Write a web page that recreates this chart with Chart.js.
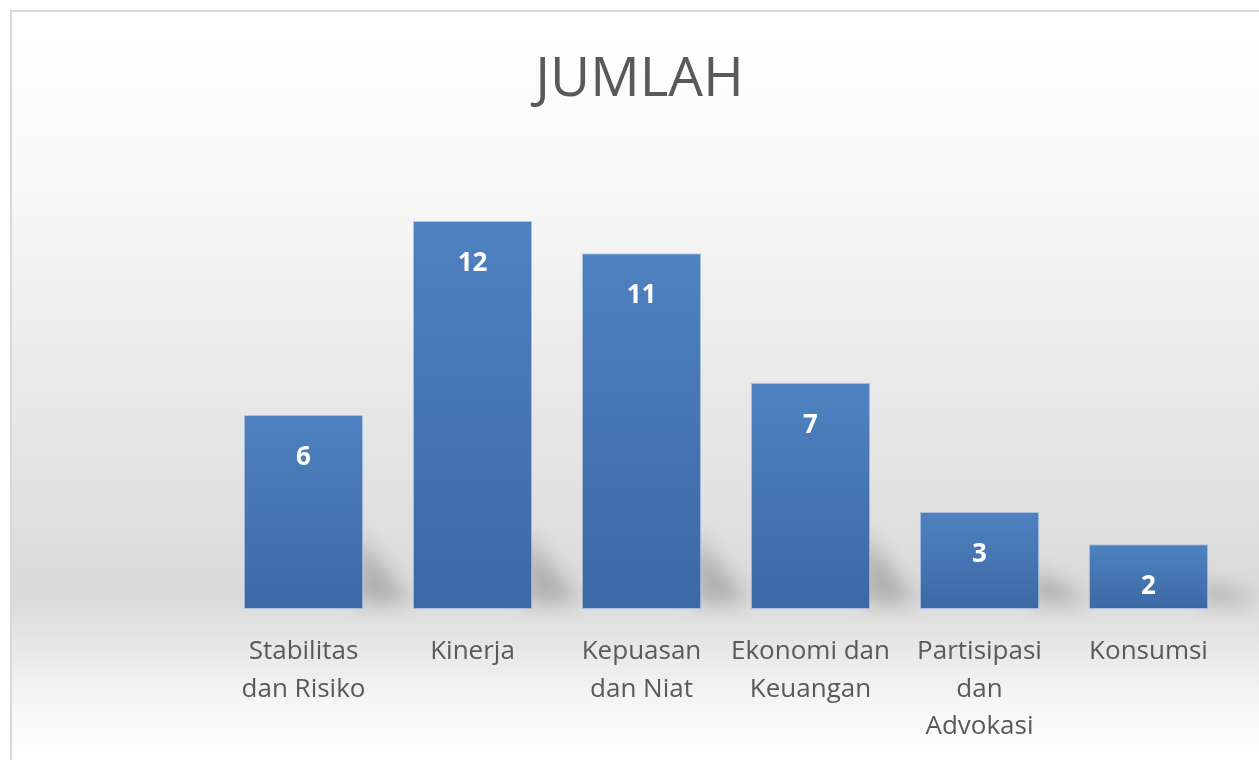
<!DOCTYPE html>
<html>
<head>
<meta charset="utf-8">
<script src="https://cdn.jsdelivr.net/npm/chart.js@4"></script>
<style>
html,body{margin:0;padding:0;background:#fff;}
#wrap{width:1259px;height:760px;position:relative;}
</style>
</head>
<body>
<div id="wrap"><canvas id="c" width="1259" height="760"></canvas></div>
<script>
const categories = [
  ["Stabilitas", "dan Risiko"],
  ["Kinerja"],
  ["Kepuasan", "dan Niat"],
  ["Ekonomi dan", "Keuangan"],
  ["Partisipasi", "dan", "Advokasi"],
  ["Konsumsi"]
];
const jumlahValues = [6, 12, 11, 7, 3, 2];
const titleText = "JUMLAH";

const bgPlugin = {
  id: 'bg',
  beforeDraw(chart) {
    const ctx = chart.ctx, W = chart.width, H = chart.height;
    ctx.save();
    ctx.fillStyle = '#ffffff';
    ctx.fillRect(0, 0, W, H);
    const g = ctx.createLinearGradient(0, 11, 0, H);
    g.addColorStop(0, '#ffffff');
    g.addColorStop(0.2, '#fafafa');
    g.addColorStop(0.5, '#e9e9e9');
    g.addColorStop(0.78, '#dadada');
    g.addColorStop(0.93, '#f7f7f7');
    g.addColorStop(1, '#ffffff');
    ctx.fillStyle = g;
    ctx.fillRect(11, 11, W - 11, H - 11);
    ctx.strokeStyle = '#d9d9d9';
    ctx.lineWidth = 2;
    ctx.beginPath();
    ctx.moveTo(11, H);
    ctx.lineTo(11, 11);
    ctx.lineTo(W, 11);
    ctx.stroke();
    ctx.restore();
  }
};

const shadowPlugin = {
  id: 'barShadow',
  beforeDatasetsDraw(chart) {
    const ctx = chart.ctx;
    const meta = chart.getDatasetMeta(0);
    ctx.save();
    ctx.filter = 'blur(10px)';
    ctx.fillStyle = 'rgba(0,0,0,0.2)';
    meta.data.forEach(bar => {
      const p = bar.getProps(['x', 'y', 'base', 'width'], true);
      const right = p.x + p.width / 2;
      const h = p.base - p.y;
      const up = Math.min(h * 0.4, 75);
      ctx.beginPath();
      ctx.moveTo(right - 6, p.base - 6);
      ctx.lineTo(right - 6, p.base - up);
      ctx.lineTo(right + 42, p.base - 14);
      ctx.lineTo(right + 42, p.base - 6);
      ctx.closePath();
      ctx.fill();
    });
    ctx.restore();
  }
};

const labelPlugin = {
  id: 'valueLabels',
  afterDatasetsDraw(chart) {
    const ctx = chart.ctx;
    const meta = chart.getDatasetMeta(0);
    ctx.save();
    ctx.fillStyle = '#ffffff';
    ctx.font = 'bold 26px "Open Sans"';
    ctx.textAlign = 'center';
    ctx.textBaseline = 'alphabetic';
    meta.data.forEach((bar, i) => {
      const p = bar.getProps(['x', 'y'], true);
      ctx.fillText(String(jumlahValues[i]), p.x, p.y + 50);
    });
    ctx.restore();
  }
};

new Chart(document.getElementById('c'), {
  type: 'bar',
  data: {
    labels: categories,
    datasets: [{
      label: titleText,
      data: jumlahValues,
      backgroundColor: (ctx) => {
        const chart = ctx.chart;
        if (!chart.chartArea || ctx.dataIndex === undefined) return '#4a7ab8';
        const y = chart.scales.y;
        const top = y.getPixelForValue(jumlahValues[ctx.dataIndex]);
        const bot = y.getPixelForValue(0);
        const g = chart.ctx.createLinearGradient(0, top, 0, bot);
        g.addColorStop(0, '#4f81c0');
        g.addColorStop(1, '#3c69a5');
        return g;
      },
      borderColor: 'rgba(150,180,220,0.7)',
      borderWidth: 1,
      borderSkipped: false,
      categoryPercentage: 1,
      barPercentage: 0.706
    }]
  },
  options: {
    responsive: false,
    animation: false,
    devicePixelRatio: 1,
    layout: { padding: { left: 20, right: 0, top: 0, bottom: 0 } },
    plugins: {
      legend: { display: false },
      tooltip: { enabled: false },
      title: {
        display: true,
        text: titleText,
        color: '#595959',
        font: { family: 'Open Sans', size: 55, weight: 'normal', lineHeight: 1.2 },
        padding: { top: 47, bottom: 108 }
      }
    },
    scales: {
      x: {
        grid: { display: false, drawTicks: false },
        border: { display: false },
        ticks: {
          color: '#595959',
          font: { family: 'Open Sans', size: 26, lineHeight: 1.44 },
          padding: 24,
          maxRotation: 0,
          autoSkip: false
        },
        afterFit: (s) => { s.height = 151; }
      },
      y: {
        min: 0,
        max: 12,
        position: 'left',
        grid: { display: false, drawTicks: false },
        border: { display: false },
        ticks: { display: false },
        afterFit: (s) => { s.width = 199; }
      },
      y2: {
        min: 0,
        max: 12,
        position: 'right',
        grid: { display: false, drawTicks: false },
        border: { display: false },
        ticks: { display: false },
        afterFit: (s) => { s.width = 26; }
      }
    }
  },
  plugins: [bgPlugin, shadowPlugin, labelPlugin]
});
</script>
</body>
</html>
